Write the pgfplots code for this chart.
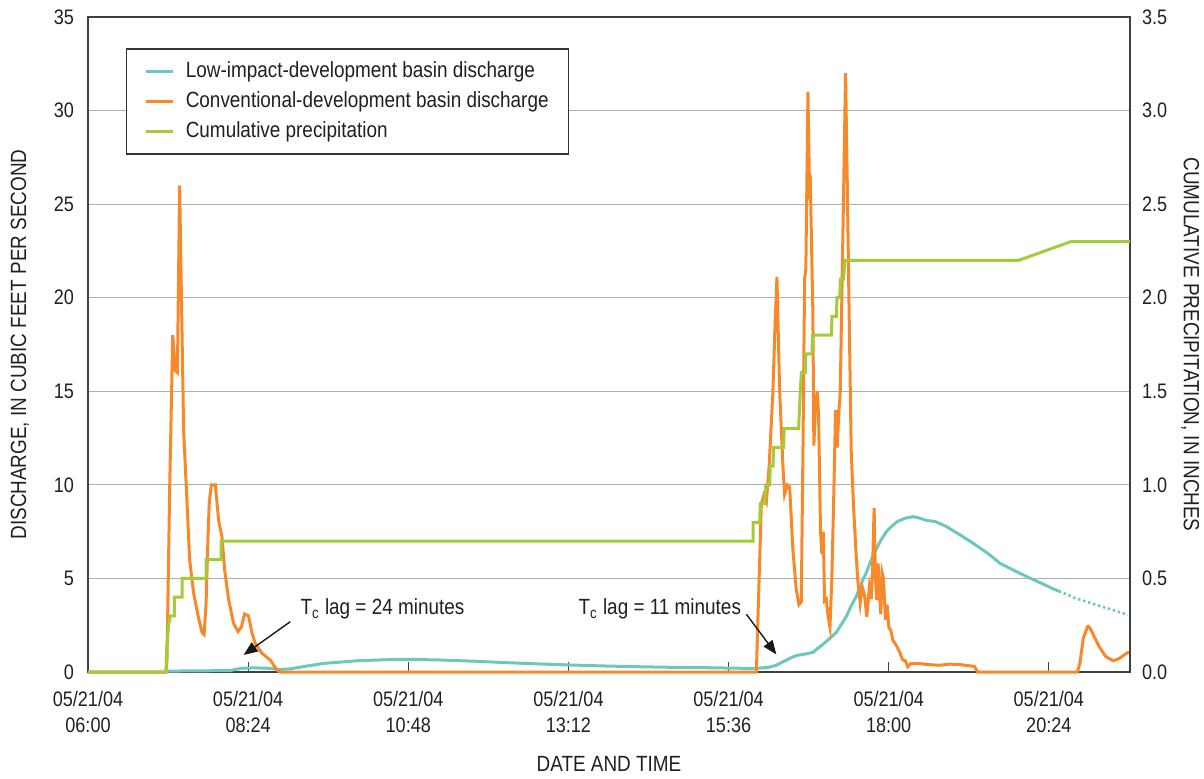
\documentclass[border=0pt]{standalone}
\usepackage{fontspec}
\setmainfont{Liberation Sans}[FakeStretch=0.86]
\usepackage{pgfplots}
\pgfplotsset{compat=1.18}
\usetikzlibrary{arrows.meta}
\definecolor{teal1}{RGB}{108,200,190}
\definecolor{orange1}{RGB}{247,137,42}
\definecolor{green1}{RGB}{164,204,58}
\definecolor{txt}{RGB}{35,31,32}
\definecolor{gridc}{RGB}{175,175,175}
\newcommand\tickfont{\fontsize{10.5}{13}\selectfont}
\newcommand\labfont{\fontsize{11}{13}\selectfont}
\newcommand\legfont{\fontsize{11}{13}\selectfont}
\begin{document}
\begin{tikzpicture}
\useasboundingbox (-44pt,-53pt) rectangle (558pt,336pt);
\begin{axis}[
  scale only axis, width=521pt, height=327.5pt,
  xmin=0, xmax=937, ymin=0, ymax=35,
  xtick={0,144,288,432,576,720,864},
  xticklabels={{05/21/04\\06:00},{05/21/04\\08:24},{05/21/04\\10:48},{05/21/04\\13:12},{05/21/04\\15:36},{05/21/04\\18:00},{05/21/04\\20:24}},
  ytick={0,5,10,15,20,25,30,35},
  xtick pos=bottom, ytick pos=left,
  tick align=inside, major tick length=5pt,
  ytick style={draw=none},
  xtick style={color=black!75, line width=0.6pt},
  ymajorgrids, grid style={gridc, line width=0.6pt},
  axis line style={black!75, line width=0.8pt},
  ticklabel style={font=\tickfont, text=txt},
  xticklabel style={align=center, yshift=-6.2pt},
  yticklabel style={xshift=-3.5pt},
  /pgf/number format/assume math mode=true,
  xlabel={DATE AND TIME},
  ylabel={DISCHARGE, IN CUBIC FEET PER SECOND},
  every axis x label/.style={at={(axis description cs:0.5,-0.1405)}, anchor=center, font=\labfont, text=txt},
  every axis y label/.style={at={(axis description cs:-0.0653,0.5)}, rotate=90, anchor=center, font=\labfont, text=txt},
  clip=false,
  legend style={at={(axis description cs:0.0362,0.952)}, anchor=north west,
    draw=black!80, line width=0.7pt, fill=white, font=\legfont, text=txt,
    inner xsep=9pt, inner ysep=5pt, row sep=2.5pt, column sep=4.7pt,
    nodes={inner sep=1pt, text height=8pt, text depth=2.5pt},
    cells={anchor=west}},
  legend image code/.code={\draw[#1] (0pt,0pt) -- (13.5pt,0pt);},
]
\addplot[teal1, line width=1.5pt] coordinates {
(0,0) (70,0) (72,0.05) (100,0.06) (128,0.08) (138,0.2) (150,0.22) (162,0.2) (172,0.13) (182,0.17) (195,0.3) (212,0.46) (242,0.6) (270,0.66) (287,0.68) (317,0.64) (350,0.57) (376,0.5) (406,0.43) (436,0.37) (466,0.32) (496,0.28) (526,0.25) (556,0.23) (586,0.2) (601,0.19) (612,0.25) (619,0.36) (625,0.55) (631,0.73) (637,0.88) (643,0.94) (648,1.0) (652,1.05) (656,1.25) (661,1.48) (667,1.8) (673,2.12) (677,2.5) (682,2.98) (686,3.5) (691,4.05) (695,4.7) (700,5.32) (704,5.95) (709,6.58) (713,7.05) (718,7.5) (723,7.8) (728,8.05) (735,8.22) (742,8.3) (748,8.22) (754,8.1) (762,8.04) (772,7.77) (784,7.33) (796,6.88) (810,6.3) (820,5.81) (832,5.45) (844,5.1) (856,4.78) (867,4.47) (873,4.32)
};
\addlegendentry{Low-impact-development basin discharge}
\addplot[teal1, line width=1.3pt, dash pattern=on 1.2pt off 1.4pt, forget plot] coordinates {
(873,4.32) (878,4.2) (888,3.94) (900,3.72) (912,3.49) (924,3.27) (935,3.05)
};
\addplot[orange1, line width=1.5pt] coordinates {
(0,0) (70,0) (71,0.5) (73.5,10) (76.2,18.0) (78.6,16.1) (80.4,16.0) (82.4,26.0) (84.0,20.1) (86.0,12.9) (89.1,9.0) (91.4,6.0) (95.0,4.2) (99.0,3.0) (102.6,2.1) (104.4,2.0) (106.2,3.7) (107.9,7.2) (109.1,9.1) (110.9,10.0) (114.5,10.0) (117.5,8.1) (120.5,7.2) (122.9,5.45) (126.5,3.85) (130.9,2.6) (134.9,2.16) (137.9,2.4) (140.8,3.1) (144.4,3.0) (147.5,2.06) (150.4,1.53) (156.4,1.0) (163.9,0.64) (169.9,0.1) (172.9,0)
(601,0) (605.5,9.0) (607.8,9.45) (610,9.1) (612.5,11) (615.9,15.0) (617.5,18) (619.5,21.1) (621.9,15.1) (624.9,11.0) (626.4,9.5) (628.8,10.0) (630.9,9.9) (633.9,6.5) (636.9,4.4) (639.3,3.6) (641.4,3.75) (642.9,11.8) (644.4,21.0) (645.5,21.5) (647.4,31.0) (648.8,25.8) (649.6,26.0) (651.8,19.3) (652.7,12.1) (654.2,14.2) (655.7,15.0) (656.9,13.85) (658.7,7.56) (659.9,6.3) (661.2,7.5) (662.3,3.8) (663.9,3.9) (665.5,3.0) (667.2,2.4) (668.9,5.05) (670.7,9.66) (672.2,14.0) (673.7,12.0) (675.2,13.9) (676.4,14.9) (677.9,20.1) (679.5,25.8) (681.2,32.0) (682.7,26.4) (684.2,20.1) (686.3,11.8) (688.4,8.84) (690.5,6.5) (692.2,4.9) (694.4,3.67) (696.2,4.56) (698.3,4.1) (700.3,2.96) (702.7,4.56) (704.5,3.9) (705.7,6.0) (706.9,8.75) (708.1,5.0) (709.3,3.85) (710.5,5.8) (711.7,4.2) (712.9,3.1) (714.1,5.3) (715.3,5.0) (717.1,2.78) (718.6,3.6) (720.1,2.4) (722,2.2) (723.7,1.7) (726.7,1.44) (729.7,1.09) (732.6,0.64) (735,0.6) (737.1,0.28) (740,0.45) (747.6,0.45) (755,0.4) (765.6,0.36) (775,0.42) (783.6,0.4) (790,0.35) (797,0.3) (800,0) (889.8,0) (892,0.5) (895,1.8) (898.8,2.42) (899.6,2.43) (901.5,2.3) (904.8,1.89) (909.3,1.35) (915.3,0.82) (921.9,0.6) (927.2,0.72) (934.7,1.03) (937,1.05)
};
\addlegendentry{Conventional-development basin discharge}
\addlegendimage{green1, line width=1.5pt}
\addlegendentry{Cumulative precipitation}
\draw[black!90, line width=0.7pt, -{Triangle[length=7pt,width=5.5pt]}] (axis cs:181.9,2.69) -- (axis cs:139.9,0.91);
\draw[black!90, line width=0.7pt, -{Triangle[length=7pt,width=5.5pt]}] (axis cs:592,3.09) -- (axis cs:619,0.94);
\node[anchor=base west, inner sep=0pt, font=\legfont, text=txt] at (axis cs:190.8,3.05) {T\textsubscript{c} lag = 24 minutes};
\node[anchor=base west, inner sep=0pt, font=\legfont, text=txt] at (axis cs:440.8,3.05) {T\textsubscript{c} lag = 11 minutes};
\end{axis}
\begin{axis}[
  scale only axis, width=521pt, height=327.5pt,
  xmin=0, xmax=937, ymin=0, ymax=3.5,
  hide x axis, axis y line*=right,
  ytick={0,0.5,1,1.5,2,2.5,3,3.5},
  ytick style={draw=none},
  axis line style={black!75, line width=0.8pt},
  yticklabel style={/pgf/number format/.cd, fixed, fixed zerofill, precision=1, /tikz/.cd, font=\tickfont, text=txt, xshift=2.5pt},
  /pgf/number format/assume math mode=true,
  ylabel={CUMULATIVE PRECIPITATION, IN INCHES},
  every axis y label/.style={at={(axis description cs:1.0576,0.5)}, rotate=-90, anchor=center, font=\labfont, text=txt},
  clip=false,
]
\addplot[green1, line width=1.5pt] coordinates {
(0,0) (70,0) (71,0.15) (72.5,0.25) (74,0.3) (77.7,0.3) (77.7,0.4) (84.6,0.4) (84.6,0.5) (106.2,0.5) (106.2,0.6) (119.6,0.6) (119.6,0.7) (598,0.7) (598,0.8) (604,0.8) (604.5,0.9) (608.5,0.9) (609.5,1.0) (613,1.0) (613.5,1.1) (616,1.1) (616.5,1.2) (625.5,1.2) (626,1.3) (639,1.3) (640.5,1.5) (641.5,1.6) (645,1.6) (645.5,1.7) (651,1.7) (651.5,1.8) (668.5,1.8) (669,1.9) (673,1.9) (673.5,2.0) (676,2.0) (676.5,2.1) (679.5,2.1) (680.5,2.2) (837,2.2) (884,2.3) (937,2.3)
};
\end{axis}
\end{tikzpicture}
\end{document}
